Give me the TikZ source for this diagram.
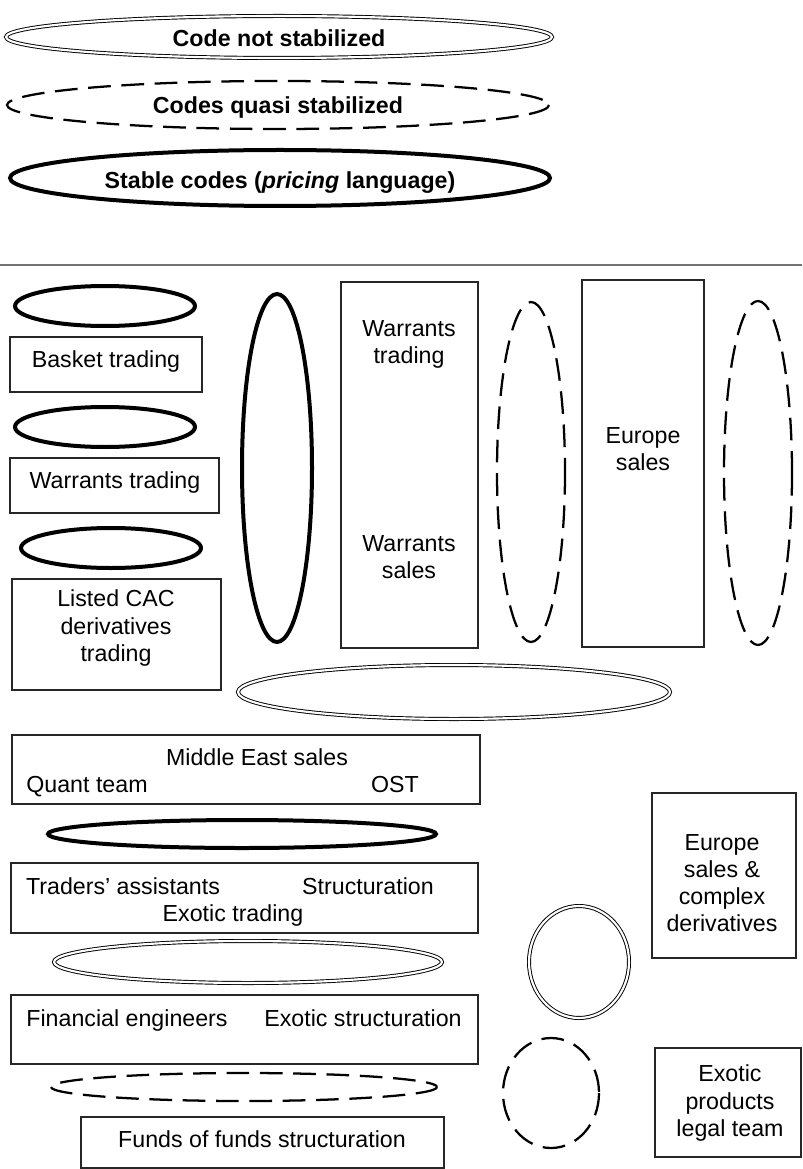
\documentclass[tikz,border=0pt]{standalone}
\usepackage{fontspec}
\setmainfont{Liberation Sans}

\begin{document}
\begin{tikzpicture}[x=0.75pt, y=-0.75pt]
\tikzset{
  box/.style={draw=black!85, line width=0.9pt},
  thk/.style={draw, line width=3pt},
  dbl/.style={draw, double, line width=0.7pt, double distance=1.6pt},
  dsh/.style={draw, line width=1.7pt, dash pattern=on 17pt off 8pt},
  lab/.style={inner sep=0pt, align=center, font=\fontsize{17.4}{20.3}\selectfont},
  one/.style={lab, text height=0.72em, text depth=0.21em, yshift=-3pt},
  ttl/.style={one, font=\fontsize{17.4}{20.3}\selectfont\bfseries}}
\useasboundingbox (0,0) rectangle (802,1169);

% ---------------- legend: the three kinds of codes ----------------
\draw[dbl] (279,37)  ellipse [x radius=273, y radius=21];
\node[ttl] (notstab) at (279,39) {Code not stabilized};
\draw[dsh] (278,105) ellipse [x radius=271, y radius=24];
\node[ttl] (quasi) at (278,106) {Codes quasi stabilized};
\draw[thk] (280,178) ellipse [x radius=270, y radius=28];
\node[ttl] (stable) at (280,181) {Stable codes (\textit{pricing} language)};

\draw[black!55, line width=0.8pt] (0,265) -- (802,265);

% ---------------- flow desks, left column ----------------
\draw[thk] (105,306) ellipse [x radius=90, y radius=20];
\draw[box] (10,337) rectangle (202,392);
\node[one] (basket) at (106,360) {Basket trading};
\draw[thk] (105,427) ellipse [x radius=90, y radius=20];
\draw[box] (10,458) rectangle (219,513);
\node[one] (wtrade) at (115,481) {Warrants trading};
\draw[thk] (111,548) ellipse [x radius=90, y radius=20];
\draw[box] (12,579) rectangle (221,690);
\node[lab] (listed) at (116,628) {Listed CAC\\derivatives\\trading};
\draw[thk] (277,468) ellipse [x radius=35, y radius=174];

% ---------------- warrants and Europe sales ----------------
\draw[box] (341,282) rectangle (478,648);
\node[lab] (wtrade2) at (409,344) {Warrants\\trading};
\node[lab] (wsales) at (409,557) {Warrants\\sales};
\draw[dsh] (531,472) ellipse [x radius=34, y radius=170];
\draw[box] (582,280) rectangle (704,647);
\node[lab] (eusales) at (643,449) {Europe\\sales};
\draw[dsh] (758,473) ellipse [x radius=34, y radius=172];
\draw[dbl] (454,692) ellipse [x radius=216, y radius=27];

% ---------------- exotic desks ----------------
\draw[box] (12,735) rectangle (480,804);
\node[one] (mideast) at (257,758) {Middle East sales};
\node[one] (quant) at (87,785) {Quant team};
\node[one] (ost) at (395,785) {OST};
\draw[thk] (242,834) ellipse [x radius=194, y radius=14];
\draw[box] (11,863) rectangle (478,933);
\node[one] (assist) at (123,887) {Traders’ assistants};
\node[one] (struct) at (368,887) {Structuration};
\node[one] (extrade) at (233,914) {Exotic trading};
\draw[dbl] (248,962) ellipse [x radius=194, y radius=21];
\draw[box] (11,995) rectangle (478,1064);
\node[one] (fineng) at (127,1019) {Financial engineers};
\node[one] (exstruct) at (363,1019) {Exotic structuration};
\draw[dsh] (244,1087) ellipse [x radius=193, y radius=14];
\draw[box] (81,1117) rectangle (444,1168);
\node[one] (fof) at (262,1140) {Funds of funds structuration};

% ---------------- right column ----------------
\draw[box] (652,793) rectangle (796,958);
\node[lab] (complex) at (722,883) {Europe\\sales \&\\complex\\derivatives};
\draw[dbl] (579,962) ellipse [x radius=50, y radius=56];
\draw[dsh] (551,1093) ellipse [x radius=48, y radius=55];
\draw[box] (655,1048) rectangle (801,1157);
\node[lab] (legal) at (730,1103) {Exotic\\products\\legal team};
\end{tikzpicture}
\end{document}
